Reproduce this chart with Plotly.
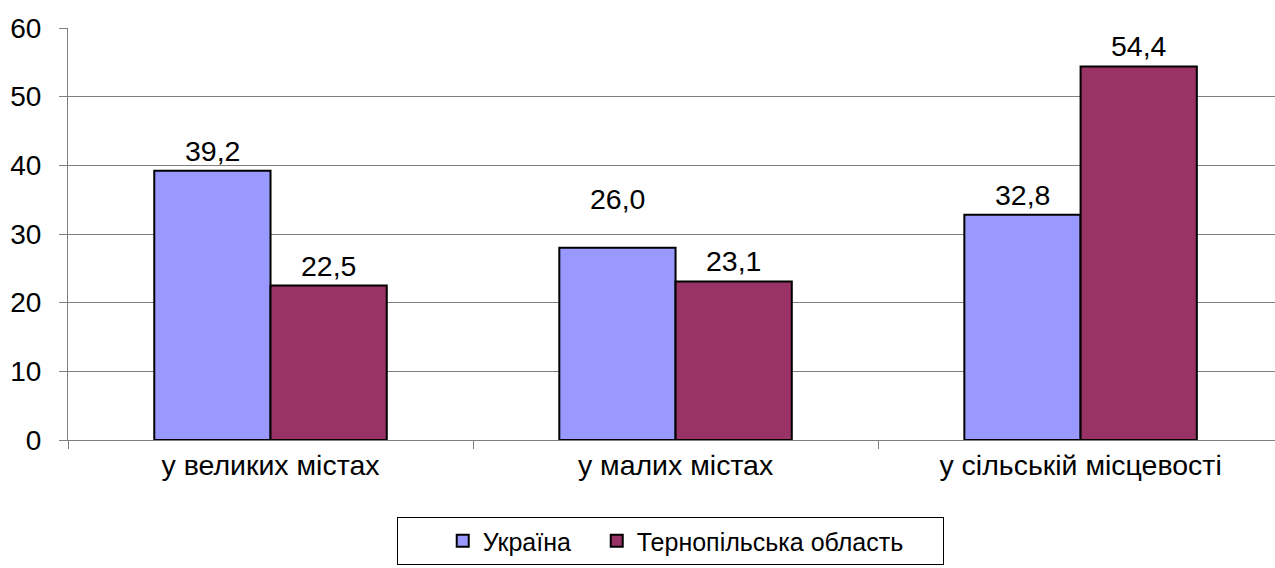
import plotly.graph_objects as go

categories = ["у великих містах", "у малих містах", "у сільській місцевості"]
ukraine = [39.2, 28.0, 32.8]
ukraine_labels = ["39,2", "26,0", "32,8"]
ternopil = [22.5, 23.1, 54.4]
ternopil_labels = ["22,5", "23,1", "54,4"]
series_names = ["Україна", "Тернопільська область"]
y_ticks = [0, 10, 20, 30, 40, 50, 60]

FONT = "Arial, Liberation Sans, sans-serif"
NB = "\u00a0"

fig = go.Figure()
fig.add_trace(go.Bar(
    name=series_names[0] + NB * 3, x=categories, y=ukraine,
    marker=dict(color="#9999FF", line=dict(color="black", width=2)),
    offsetgroup="a",
))
fig.add_trace(go.Bar(
    name=series_names[1] + NB * 5, x=categories, y=ternopil,
    marker=dict(color="#993366", line=dict(color="black", width=2)),
    offsetgroup="b",
))

annotations = []
bar_offset = 0.1435
for i, c in enumerate(categories):
    shift_u = 31 if i == 1 else 2
    annotations.append(dict(x=i - bar_offset, y=ukraine[i], xref="x", yref="y",
                            text=ukraine_labels[i], showarrow=False,
                            yanchor="bottom", yshift=shift_u,
                            font=dict(size=28.5, color="black", family=FONT)))
    annotations.append(dict(x=i + bar_offset, y=ternopil[i], xref="x", yref="y",
                            text=ternopil_labels[i], showarrow=False,
                            yanchor="bottom", yshift=2,
                            font=dict(size=28.5, color="black", family=FONT)))

fig.update_layout(
    width=1275, height=568,
    margin=dict(l=68, r=0, t=28, b=128, autoexpand=False),
    paper_bgcolor="white", plot_bgcolor="white",
    barmode="group", bargap=0.426, bargroupgap=0,
    font=dict(family=FONT, size=28, color="black"),
    annotations=annotations,
    showlegend=True,
    legend=dict(orientation="h", x=(397 - 68) / (1275 - 68), xanchor="left", xref="paper",
                y=1 - 517 / 568, yanchor="top", yref="container",
                bordercolor="black", borderwidth=1, font=dict(size=25, family=FONT),
                title=dict(text=NB * 5, side="left", font=dict(size=25, family=FONT))),
    xaxis=dict(type="category", range=[-0.5, 2.48], showline=True, linecolor="#808080",
               linewidth=1, ticks="outside", tickson="boundaries", ticklen=8,
               tickcolor="#808080", tickfont=dict(size=28.5, family=FONT), showgrid=False,
               automargin=False),
    yaxis=dict(range=[0, 60], tickvals=y_ticks, showline=True, linecolor="#808080",
               linewidth=1, ticks="outside", ticklen=8, tickcolor="#808080",
               showgrid=True, gridcolor="#808080", gridwidth=1,
               tickfont=dict(size=28, family=FONT), zeroline=False,
               ticklabelstandoff=12, automargin=False),
)

fig.write_html("out.html", config={"displayModeBar": False},
               post_script="document.body.style.margin='0';")
